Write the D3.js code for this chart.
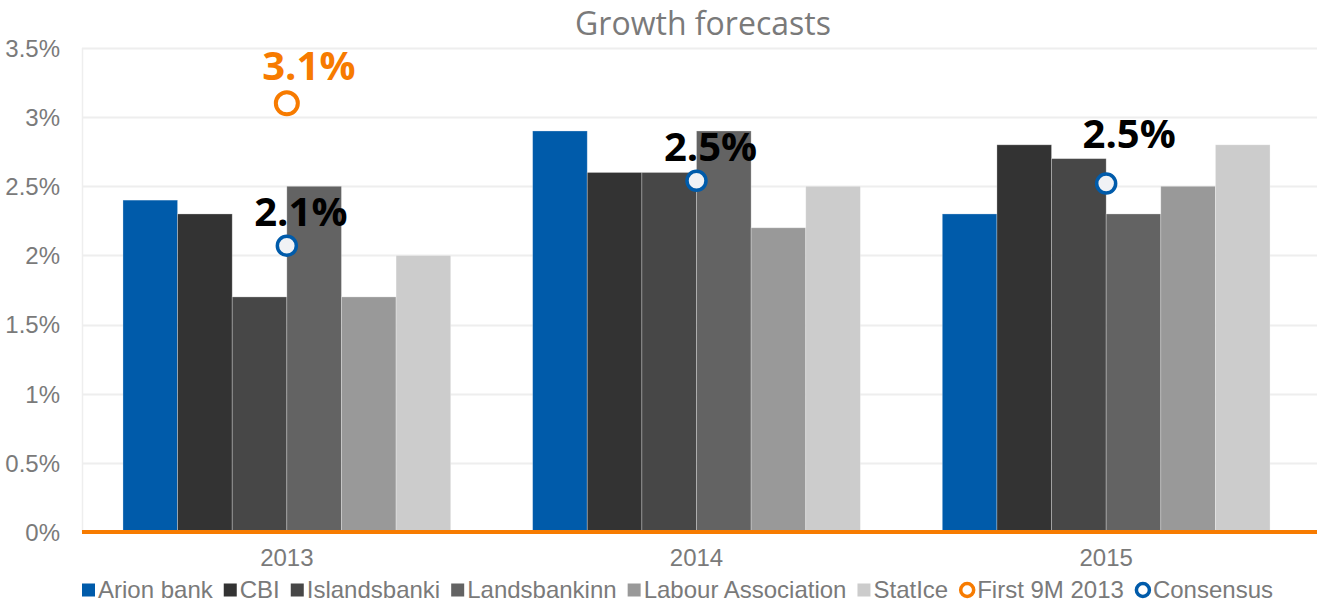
<!DOCTYPE html>
<html>
<head>
<meta charset="utf-8">
<script src="https://cdn.jsdelivr.net/npm/d3@7"></script>
<style>
  html, body { margin: 0; padding: 0; background: #fff; }
  svg { display: block; }
</style>
</head>
<body>
<svg id="chart" width="1317" height="605"></svg>
<script>
// Forecast years (x categories)
const years = ["2013", "2014", "2015"];

// Forecasting institutions (bar series)
const forecasters = ["Arion bank", "CBI", "Islandsbanki", "Landsbankinn", "Labour Association", "StatIce"];
const forecasterColors = ["#005baa", "#333333", "#474747", "#636363", "#999999", "#cccccc"];

// GDP growth forecasts (%), one array per forecaster, ordered by year
const arionBank = [2.4, 2.9, 2.3];
const cbi = [2.3, 2.6, 2.8];
const islandsbanki = [1.7, 2.6, 2.7];
const landsbankinn = [2.5, 2.9, 2.3];
const labourAssociation = [1.7, 2.2, 2.5];
const statIce = [2.0, 2.5, 2.8];
const forecastValues = [arionBank, cbi, islandsbanki, landsbankinn, labourAssociation, statIce];

// Consensus forecast per year and actual growth of the first nine months of 2013
const consensus = [2.07, 2.54, 2.52];
const first9M2013 = [{ year: "2013", value: 3.1 }];

// Y axis ticks
const yTicks = [0, 0.5, 1, 1.5, 2, 2.5, 3, 3.5];
const yTickLabels = ["0%", "0.5%", "1%", "1.5%", "2%", "2.5%", "3%", "3.5%"];

const ORANGE = "#f77b00";
const BLUE = "#005baa";
const TEXT_GREY = "#7a7a7a";
const AXIS_FONT = "'Liberation Sans', Arial, sans-serif";
const AXIS_SIZE = 24;

const svg = d3.select("#chart");
const W = 1317;
const plot = { left: 82, right: 1311, top: 48, bottom: 532 };

const x = d3.scaleBand().domain(years).range([plot.left, plot.right]).paddingInner(0).paddingOuter(0);
// 150% gap width: 6 bars + 1.5 bar widths of gap per category
const barW = x.bandwidth() / 7.5;
const xs = d3.scaleBand().domain(forecasters).range([barW * 0.75, barW * 6.75]).padding(0);
const y = d3.scaleLinear().domain([0, 3.5]).range([plot.bottom, plot.top]);

const fmtPct = d3.format(".1f");

// Title
svg.append("text")
  .attr("x", 703).attr("y", 35)
  .attr("text-anchor", "middle")
  .attr("font-family", "'Open Sans', sans-serif")
  .attr("font-size", 32)
  .attr("fill", TEXT_GREY)
  .text("Growth forecasts");

// Gridlines
svg.append("g")
  .selectAll("line")
  .data(yTicks.filter(d => d > 0))
  .join("line")
  .attr("x1", plot.left).attr("x2", W)
  .attr("y1", d => Math.round(y(d)) + 0.5).attr("y2", d => Math.round(y(d)) + 0.5)
  .attr("stroke", "#eeeeee").attr("stroke-width", 2);

// Left axis line
svg.append("line")
  .attr("x1", plot.left + 0.5).attr("x2", plot.left + 0.5)
  .attr("y1", plot.top).attr("y2", plot.bottom)
  .attr("stroke", "#eeeeee").attr("stroke-width", 1.5);

// Y axis
const yAxis = d3.axisLeft(y)
  .tickValues(yTicks)
  .tickFormat((d, i) => yTickLabels[i])
  .tickSize(0)
  .tickPadding(0);
const yG = svg.append("g")
  .attr("transform", `translate(60,0)`)
  .call(yAxis);
yG.select(".domain").remove();
yG.selectAll("text")
  .attr("font-family", AXIS_FONT)
  .attr("font-size", AXIS_SIZE)
  .attr("fill", TEXT_GREY)
  .attr("dy", "0.35em");

// Bars
const groups = svg.append("g")
  .selectAll("g")
  .data(years)
  .join("g")
  .attr("transform", d => `translate(${x(d)},0)`);

groups.selectAll("rect")
  .data((yr, yi) => forecasters.map((f, fi) => ({ f, fi, v: forecastValues[fi][yi] })))
  .join("rect")
  .attr("x", d => xs(d.f))
  .attr("width", xs.bandwidth())
  .attr("y", d => y(d.v))
  .attr("height", d => y(0) - y(d.v))
  .attr("fill", d => forecasterColors[d.fi])
  .attr("stroke", "#ffffff")
  .attr("stroke-opacity", 0.35)
  .attr("stroke-width", 0.8);

// Zero line
svg.append("line")
  .attr("x1", plot.left).attr("x2", W)
  .attr("y1", y(0)).attr("y2", y(0))
  .attr("stroke", ORANGE).attr("stroke-width", 4);

// X axis labels
const xAxis = d3.axisBottom(x).tickSize(0).tickPadding(0);
const xG = svg.append("g")
  .attr("transform", `translate(0,566)`)
  .call(xAxis);
xG.select(".domain").remove();
xG.selectAll("text")
  .attr("font-family", AXIS_FONT)
  .attr("font-size", AXIS_SIZE)
  .attr("fill", TEXT_GREY)
  .attr("dy", 0);

const cx = yr => x(yr) + x.bandwidth() / 2;

// First 9M 2013 marker and label
const f9 = svg.append("g");
f9.selectAll("circle")
  .data(first9M2013)
  .join("circle")
  .attr("cx", d => cx(d.year))
  .attr("cy", d => y(d.value))
  .attr("r", 11)
  .attr("fill", "#ffffff")
  .attr("stroke", ORANGE)
  .attr("stroke-width", 4);
f9.selectAll("text")
  .data(first9M2013)
  .join("text")
  .attr("x", d => cx(d.year) + 22)
  .attr("y", d => y(d.value) - 23)
  .attr("text-anchor", "middle")
  .attr("font-family", "'Open Sans', sans-serif")
  .attr("font-weight", 700)
  .attr("font-size", 40)
  .attr("fill", ORANGE)
  .text(d => fmtPct(d.value) + "%");

// Consensus markers and labels
const cons = svg.append("g");
const consData = years.map((yr, i) => ({ year: yr, value: consensus[i] }));
cons.selectAll("circle")
  .data(consData)
  .join("circle")
  .attr("cx", d => cx(d.year))
  .attr("cy", d => y(d.value))
  .attr("r", 9.5)
  .attr("fill", "#f0f2f5")
  .attr("stroke", BLUE)
  .attr("stroke-width", 3.5);
cons.selectAll("text")
  .data(consData)
  .join("text")
  .attr("x", d => cx(d.year) + 14 + (d.year === "2015" ? 9 : 0))
  .attr("y", d => y(d.value) - (d.year === "2015" ? 36 : 20))
  .attr("text-anchor", "middle")
  .attr("font-family", "'Open Sans', sans-serif")
  .attr("font-weight", 700)
  .attr("font-size", 40)
  .attr("fill", "#000000")
  .text(d => fmtPct(d.value) + "%");

// Legend
const legendItems = forecasters.map((f, i) => ({ label: f, type: "rect", color: forecasterColors[i] }))
  .concat([
    { label: "First 9M 2013", type: "circle", color: ORANGE },
    { label: "Consensus", type: "circle", color: BLUE }
  ]);
const legend = svg.append("g").attr("transform", "translate(0,590)");
let lx = 82;
legendItems.forEach(item => {
  const g = legend.append("g").attr("transform", `translate(${lx},0)`);
  if (item.type === "rect") {
    g.append("rect").attr("x", 0).attr("y", -6.5).attr("width", 13).attr("height", 13).attr("fill", item.color);
  } else {
    g.append("circle").attr("cx", 8).attr("cy", 0).attr("r", 6.5)
      .attr("fill", "#ffffff").attr("stroke", item.color).attr("stroke-width", 3.5);
  }
  const t = g.append("text")
    .attr("x", item.type === "rect" ? 16 : 18)
    .attr("y", 0)
    .attr("dy", "0.35em")
    .attr("font-family", AXIS_FONT)
    .attr("font-size", AXIS_SIZE)
    .attr("fill", TEXT_GREY)
    .text(item.label);
  const w = t.node().getComputedTextLength();
  lx += (item.type === "rect" ? 16 : 18) + w + 11;
});
</script>
</body>
</html>
